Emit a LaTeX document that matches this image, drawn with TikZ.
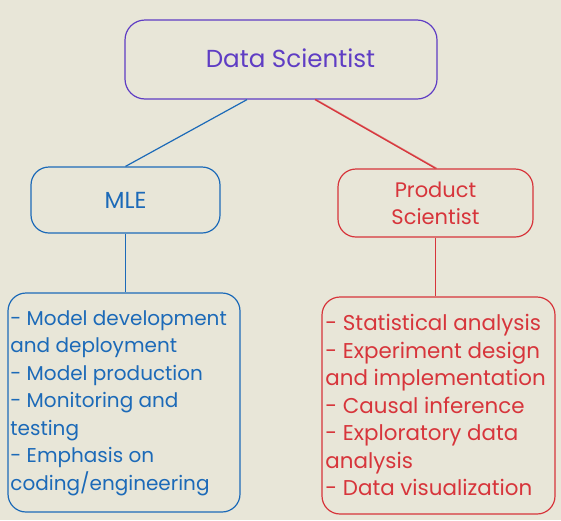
\documentclass[tikz,border=0pt]{standalone}
\usepackage{fontspec}
\setmainfont{Poppins}
\usepackage{tikz}
\usetikzlibrary{positioning}
\definecolor{bgcol}{HTML}{E8E6D8}
\definecolor{dsviolet}{HTML}{5F3DC4}
\definecolor{mleblue}{HTML}{1C6AB8}
\definecolor{psred}{HTML}{D7353B}

\begin{document}
\begin{tikzpicture}[
	x=0.5pt, y=-0.5pt,
	rolebox/.style={draw, rounded corners=9pt, line width=0.6pt, align=center},
	listtext/.style={align=left, inner sep=0pt},
	link/.style={line width=0.6pt}]
	\fill[bgcol] (0,0) rectangle (561,520);
	\useasboundingbox (0,0) rectangle (561,520);

	% top role
	\node[rolebox, draw=dsviolet, rounded corners=10pt, minimum width=156pt, minimum height=39.5pt] (ds) at (281,59.5) {};
	\node[text=dsviolet, font=\fontsize{12.3}{14}\selectfont] (dslabel) at (290.5,58) {Data Scientist};

	% two branches
	\node[rolebox, draw=mleblue, text=mleblue, minimum width=94.5pt, minimum height=33pt, font=\fontsize{11.6}{13}\selectfont] (mle) at (125.5,200) {MLE};
	\node[rolebox, draw=psred, text=psred, minimum width=97.5pt, minimum height=34pt, font=\fontsize{10.5}{13.5}\selectfont] (ps) at (435.5,203) {Product\\Scientist};

	% task lists
	\node[rolebox, draw=mleblue, minimum width=116pt, minimum height=109.5pt] (mlelist) at (124,402.5) {};
	\node[rolebox, draw=psred, minimum width=116.5pt, minimum height=108.5pt] (pslist) at (438.5,405.5) {};
	\node[listtext, text=mleblue, anchor=west, font=\fontsize{10}{13.75}\selectfont] (mletasks) at (10,403) {- Model development\\and deployment\\- Model production\\- Monitoring and\\testing\\- Emphasis on\\coding/engineering};
	\node[listtext, text=psred, anchor=west, font=\fontsize{10.7}{13.75}\selectfont] (pstasks) at (325,405) {- Statistical analysis\\- Experiment design\\and implementation\\- Causal inference\\- Exploratory data\\analysis\\- Data visualization};

	\draw[link, mleblue] ([xshift=-17pt]ds.south) -- (mle.north);
	\draw[link, psred] ([xshift=17pt]ds.south) -- (ps.north);
	\draw[link, psred, opacity=.6] ([xshift=17.6pt]ds.south) -- ([xshift=0.6pt]ps.north);
	\draw[link, mleblue] (mle.south) -- (mle.south |- mlelist.north);
	\draw[link, psred] (ps.south) -- (ps.south |- pslist.north);
\end{tikzpicture}
\end{document}
